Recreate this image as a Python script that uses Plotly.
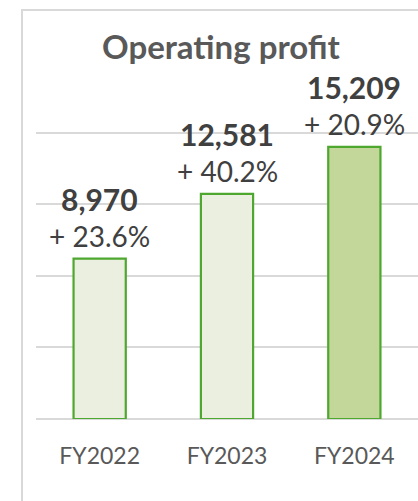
import plotly.graph_objects as go

categories = ["FY2022", "FY2023", "FY2024"]
values = [8970, 12581, 15209]
value_labels = ["8,970", "12,581", "15,209"]
growth_labels = ["+ 23.6%", "+ 40.2%", "+ 20.9%"]
title_text = "Operating profit"
grid_vals = [0, 4000, 8000, 12000, 16000]

fills = ["#EBEFDF", "#EBEFDF", "#C4D79B"]
FONT = "Lato"

W, H = 418, 501
L, R, T, B = 36, 0, 131, 82
plot_w = W - L - R
plot_h = H - T - B

fig = go.Figure()
fig.add_trace(go.Bar(
    x=categories, y=values, width=0.41,
    marker=dict(color=fills, line=dict(color="#4EA72E", width=2.2)),
    hoverinfo="skip",
))

annotations = []
for c, v, vl, gl in zip(categories, values, value_labels, growth_labels):
    annotations.append(dict(x=c, y=v, xref="x", yref="y", text="<b>" + vl + "</b>",
                            showarrow=False, yanchor="middle", yshift=60,
                            font=dict(family=FONT, size=30, color="#404040")))
    annotations.append(dict(x=c, y=v, xref="x", yref="y", text=gl,
                            showarrow=False, yanchor="middle", yshift=23,
                            font=dict(family=FONT, size=28, color="#404040")))

annotations.append(dict(x=(221 - L) / plot_w, y=(H - B - 46) / plot_h, xref="paper", yref="paper",
                        text="<b>" + title_text + "</b>", showarrow=False,
                        xanchor="center", yanchor="middle",
                        font=dict(family=FONT, size=33, color="#595959")))

fig.update_layout(
    width=W, height=H,
    margin=dict(l=L, r=R, t=T, b=B),
    paper_bgcolor="white", plot_bgcolor="white",
    showlegend=False,
    annotations=annotations,
    shapes=[dict(type="rect", xref="paper", yref="paper",
                 x0=(22 - L) / plot_w, x1=1.2,
                 y0=-0.5, y1=(H - B - 10) / plot_h,
                 line=dict(color="#D9D9D9", width=2), fillcolor="rgba(0,0,0,0)", layer="below")],
    xaxis=dict(showgrid=False, showline=False, zeroline=False,
               tickfont=dict(family=FONT, size=23, color="#595959"),
               ticks="outside", ticklen=16, tickcolor="rgba(0,0,0,0)"),
    yaxis=dict(range=[0, 16100], tickvals=grid_vals,
               showticklabels=False, showgrid=True, gridcolor="#D9D9D9", gridwidth=1.6,
               zeroline=True, zerolinecolor="#D9D9D9", zerolinewidth=1.6, showline=False),
)

fig.write_html("out.html", config={"displayModeBar": False},
               post_script="document.body.style.margin='0';document.body.style.overflow='hidden';")
